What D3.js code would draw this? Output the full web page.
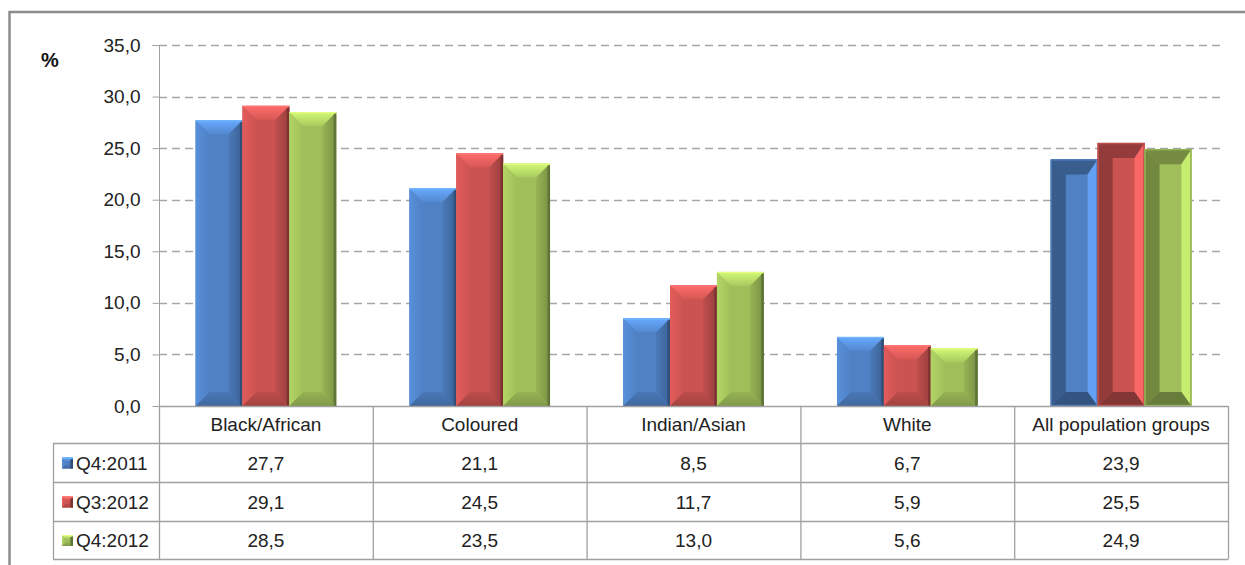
<!DOCTYPE html>
<html><head><meta charset="utf-8">
<script src="https://cdn.jsdelivr.net/npm/d3@7"></script>
<style>
html,body{margin:0;padding:0;background:#fff;}
svg{display:block;font-family:"Liberation Sans",Arial,sans-serif;}
</style></head>
<body>
<svg id="chart" width="1245" height="565"></svg>
<script>
const categories = ["Black/African","Coloured","Indian/Asian","White","All population groups"];
const seriesNames = ["Q4:2011","Q3:2012","Q4:2012"];
const q4_2011 = [27.7,21.1,8.5,6.7,23.9];
const q3_2012 = [29.1,24.5,11.7,5.9,25.5];
const q4_2012 = [28.5,23.5,13.0,5.6,24.9];
const yTicks = [0,5,10,15,20,25,30,35];
const colors = ["#4f81c4","#cb5351","#a0bf5a"];
const seriesValues = [q4_2011,q3_2012,q4_2012];

(function(){
const svg = d3.select("#chart");
const fmt = v => d3.format(".1f")(v).replace(".", ",");
const FS = 19;

const plotLeft = 159, plotRight = 1228, plotTop = 45, plotBase = 406;
const rowY = [406,443,482,521,559];
const tableLeft = 53;

// gradients
const defs = svg.append("defs");
colors.forEach((c,i)=>{
  const col = d3.color(c);
  const gt = defs.append("linearGradient").attr("id","top"+i).attr("x1",0).attr("y1",0).attr("x2",0).attr("y2",1);
  gt.append("stop").attr("offset","0%").attr("stop-color",col.brighter(0.75));
  gt.append("stop").attr("offset","100%").attr("stop-color",col.brighter(0.15));
  const gb = defs.append("linearGradient").attr("id","bot"+i).attr("x1",0).attr("y1",0).attr("x2",0).attr("y2",1);
  gb.append("stop").attr("offset","0%").attr("stop-color",col.darker(0.2));
  gb.append("stop").attr("offset","100%").attr("stop-color",col.darker(0.6));
  const gr = defs.append("linearGradient").attr("id","rgt"+i).attr("x1",0).attr("y1",0).attr("x2",1).attr("y2",0);
  gr.append("stop").attr("offset","0%").attr("stop-color",col.darker(0.15));
  gr.append("stop").attr("offset","100%").attr("stop-color",col.darker(0.8));
  const gl = defs.append("linearGradient").attr("id","lft"+i).attr("x1",0).attr("y1",0).attr("x2",1).attr("y2",0);
  gl.append("stop").attr("offset","0%").attr("stop-color",col.brighter(0.3));
  gl.append("stop").attr("offset","100%").attr("stop-color",col);
});

// frame
svg.append("line").attr("x1",9.5).attr("x2",9.5).attr("y1",11).attr("y2",565).attr("stroke","#8c8c8c").attr("stroke-width",2.5);
svg.append("line").attr("x1",9).attr("x2",1245).attr("y1",12).attr("y2",12).attr("stroke","#8c8c8c").attr("stroke-width",2.5);

const y = d3.scaleLinear().domain([0,35]).range([plotBase,plotTop]);
const x0 = d3.scaleBand().domain(categories).range([plotLeft,plotRight]).padding(0);
const x1 = d3.scaleBand().domain(seriesNames).range([0,x0.bandwidth()]).paddingInner(0).paddingOuter(0.78);

// gridlines
svg.append("g").selectAll("line").data(yTicks.filter(t=>t>0)).join("line")
  .attr("x1",plotLeft).attr("x2",1225).attr("y1",d=>Math.round(y(d))+0.5).attr("y2",d=>Math.round(y(d))+0.5)
  .attr("stroke","#a6a6a6").attr("stroke-width",1.3).attr("stroke-dasharray","8,5");

// y axis
const yAxis = d3.axisLeft(y).tickValues(yTicks).tickFormat(fmt).tickSize(7).tickPadding(12);
const ga = svg.append("g").attr("transform",`translate(${plotLeft+0.5},0)`).call(yAxis);
ga.select(".domain").attr("stroke","#a0a0a0").attr("d",`M-7,${plotTop+0.5}H0V${plotBase}`);
ga.selectAll(".tick line").attr("stroke","#a0a0a0");
ga.selectAll(".tick text").attr("font-size",FS).attr("fill","#222").attr("font-family","Liberation Sans, Arial, sans-serif");

svg.append("text").attr("x",41).attr("y",67).attr("font-size",20).attr("font-weight","bold").attr("fill","#111").text("%");

function bevelBar(g, bx, by, w, h, si, inverted){
  const col = d3.color(colors[si]);
  const p = pts => pts.map(q=>q.join(",")).join(" ");
  if(!inverted){
    const b = Math.min(14, w/3, h/2);
    g.append("rect").attr("x",bx).attr("y",by).attr("width",w).attr("height",h).attr("fill",col);
    g.append("polygon").attr("points",p([[bx,by],[bx+b,by+b],[bx+b,by+h-b],[bx,by+h]])).attr("fill",`url(#lft${si})`);
    g.append("polygon").attr("points",p([[bx+w,by],[bx+w,by+h],[bx+w-b,by+h-b],[bx+w-b,by+b]])).attr("fill",`url(#rgt${si})`);
    g.append("polygon").attr("points",p([[bx,by],[bx+w,by],[bx+w-b,by+b],[bx+b,by+b]])).attr("fill",`url(#top${si})`);
    g.append("polygon").attr("points",p([[bx,by+h],[bx+b,by+h-b],[bx+w-b,by+h-b],[bx+w,by+h]])).attr("fill",`url(#bot${si})`);
    g.append("rect").attr("x",bx+w-2.5).attr("y",by+2).attr("width",2.5).attr("height",h-2).attr("fill",col.darker(1.4));
    g.append("rect").attr("x",bx).attr("y",by).attr("width",w).attr("height",1.2).attr("fill",col.brighter(1));
  } else {
    const bl = 15, bt = 15, br = 10, bb = 14;
    g.append("rect").attr("x",bx).attr("y",by).attr("width",w).attr("height",h).attr("fill",col);
    g.append("polygon").attr("points",p([[bx,by],[bx+w,by],[bx+w-br,by+bt],[bx+bl,by+bt]])).attr("fill",col.darker(0.9));
    g.append("polygon").attr("points",p([[bx,by],[bx+bl,by+bt],[bx+bl,by+h-bb],[bx,by+h]])).attr("fill",col.darker(0.95));
    g.append("polygon").attr("points",p([[bx+w,by],[bx+w,by+h],[bx+w-br,by+h-bb],[bx+w-br,by+bt]])).attr("fill",col.brighter(0.6));
    g.append("polygon").attr("points",p([[bx,by+h],[bx+bl,by+h-bb],[bx+w-br,by+h-bb],[bx+w,by+h]])).attr("fill",col.darker(1.2));
    g.append("rect").attr("x",bx+0.5).attr("y",by+0.5).attr("width",w-1).attr("height",h-1).attr("fill","none").attr("stroke",col.darker(0.2)).attr("stroke-width",1.5);
  }
}

// bars
const bars = svg.append("g");
categories.forEach((cat,ci)=>{
  seriesNames.forEach((s,si)=>{
    const v = seriesValues[si][ci];
    const bx = x0(cat)+x1(s);
    const by = y(v);
    bevelBar(bars.append("g"), bx, by, x1.bandwidth(), plotBase-by, si, ci===categories.length-1);
  });
});

// table
const tbl = svg.append("g").attr("stroke","#a0a0a0").attr("stroke-width",1.3);
tbl.append("line").attr("x1",plotLeft).attr("x2",plotRight).attr("y1",plotBase+0.5).attr("y2",plotBase+0.5);
rowY.slice(1).forEach(ry=>{
  tbl.append("line").attr("x1",tableLeft).attr("x2",plotRight).attr("y1",ry+0.5).attr("y2",ry+0.5);
});
tbl.append("line").attr("x1",tableLeft+0.5).attr("x2",tableLeft+0.5).attr("y1",rowY[1]).attr("y2",rowY[4]+0.5);
categories.forEach(cat=>{
  tbl.append("line").attr("x1",x0(cat)+0.5).attr("x2",x0(cat)+0.5).attr("y1",plotBase).attr("y2",rowY[4]+0.5);
});
tbl.append("line").attr("x1",plotRight+0.5).attr("x2",plotRight+0.5).attr("y1",plotBase).attr("y2",rowY[4]+0.5);

const txt = svg.append("g").attr("font-size",FS).attr("fill","#222").attr("text-anchor","middle");
categories.forEach(cat=>{
  txt.append("text").attr("x",x0(cat)+x0.bandwidth()/2).attr("y",(rowY[0]+rowY[1])/2+6.5).text(cat);
});
seriesNames.forEach((s,si)=>{
  const cy = (rowY[si+1]+rowY[si+2])/2;
  const mk = svg.append("g");
  bevelBar(mk, 62, cy-5, 11, 11, si, false);
  svg.append("text").attr("x",76).attr("y",cy+7).attr("font-size",FS).attr("fill","#222").text(s);
  categories.forEach((cat,ci)=>{
    txt.append("text").attr("x",x0(cat)+x0.bandwidth()/2).attr("y",cy+7).text(fmt(seriesValues[si][ci]));
  });
});
})();
</script>
</body></html>
